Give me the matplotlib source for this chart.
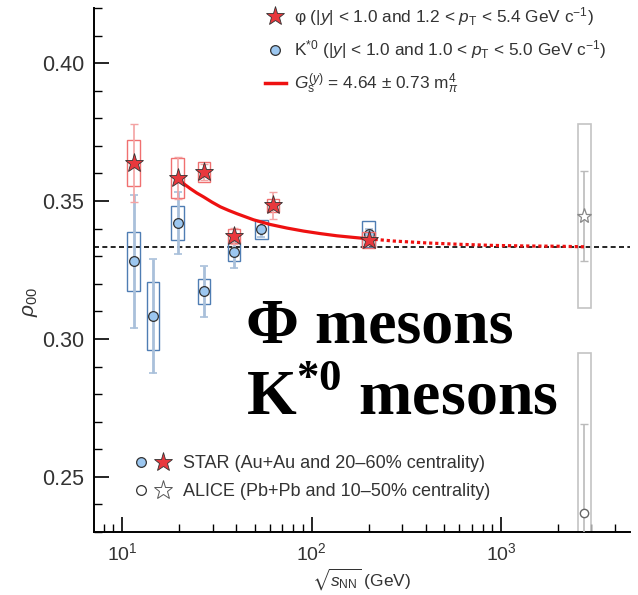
import matplotlib
matplotlib.use('Agg')
import matplotlib.pyplot as plt
from matplotlib.lines import Line2D
from matplotlib.patches import Rectangle
from matplotlib.legend_handler import HandlerTuple
from matplotlib.ticker import MultipleLocator, FormatStrFormatter, NullFormatter

plt.rcParams['font.family'] = ['Liberation Sans', 'DejaVu Sans']
plt.rcParams['mathtext.fontset'] = 'custom'
plt.rcParams['mathtext.rm'] = 'Liberation Sans'
plt.rcParams['mathtext.it'] = 'Liberation Sans:italic'
plt.rcParams['mathtext.bf'] = 'Liberation Serif:bold'
plt.rcParams['mathtext.fallback'] = 'stix'

# STAR phi
phi_e = [11.5, 19.6, 27, 39, 62.4, 200]
phi_val = [0.3639, 0.3584, 0.3605, 0.3373, 0.3484, 0.3357]
phi_stat = [0.0141, 0.0077, 0.0030, 0.0030, 0.0050, 0.0015]
phi_sys = [0.0083, 0.0072, 0.0037, 0.0024, 0.0024, 0.0029]

# STAR K*0
k_e = [11.5, 14.5, 19.6, 27, 39, 54.4, 200]
k_val = [0.3281, 0.3084, 0.3420, 0.3172, 0.3315, 0.3397, 0.3380]
k_stat = [0.0240, 0.0207, 0.0111, 0.0093, 0.0057, 0.0027, 0.0020]
k_sys = [0.0106, 0.0123, 0.0062, 0.0047, 0.0033, 0.0036, 0.0048]

# ALICE
alice_e = [2760]
alice_phi = [0.3445]
alice_phi_stat = [0.0163]
alice_phi_sys = [0.0333]
alice_k = [0.237]
alice_k_stat = [0.032]
alice_k_sys = [0.058]

# G_s fit curve
fit_e = [19.6, 21.2, 22.9, 24.8, 26.9, 29.8, 33.0, 36.5, 40.4, 49.4, 60.5, 74.2,
         90.8, 111, 136, 167, 200]
fit_val = [0.3581, 0.3562, 0.3545, 0.3529, 0.3515, 0.3496, 0.3479, 0.3466, 0.3454,
           0.3432, 0.3415, 0.3402, 0.3391, 0.3382, 0.3374, 0.3368, 0.3363]
ext_e = [200, 271, 407, 610, 914, 1371, 2056, 2760]
ext_val = [0.3363, 0.3355, 0.3348, 0.3343, 0.3339, 0.3337, 0.3336, 0.3334]

red = '#e8383d'
red_box = '#f07070'
red_err = '#f4a3a3'
blue = '#9cc7f0'
blue_box = '#4f7db3'
blue_err = '#a9c0da'
grey = '#c4c4c4'
txt = '#333333'

fig = plt.figure(figsize=(6.38, 5.95), dpi=100)
ax = fig.add_axes([0.1473, 0.1059, 0.8401, 0.8807])
ax.set_xscale('log')
ax.set_xlim(7.1, 4800)
ax.set_ylim(0.23, 0.42)

hw = 1.078  # box half-width factor (log scale)


def boxes(es, vals, sys, color, lw=1.0, z=2):
    for e, v, s in zip(es, vals, sys):
        ax.add_patch(Rectangle((e / hw, v - s), e * hw - e / hw, 2 * s,
                               fill=False, edgecolor=color, lw=lw, zorder=z))


ax.axhline(1 / 3, color='black', lw=1.2, ls=(0, (3, 2)), zorder=1)

# ALICE
boxes(alice_e, alice_phi, alice_phi_sys, grey, lw=1.2)
boxes(alice_e, alice_k, alice_k_sys, grey, lw=1.2)
ax.errorbar(alice_e, alice_phi, yerr=alice_phi_stat, fmt='none', ecolor='#bbbbbb',
            elinewidth=1.2, capsize=3, zorder=3)
ax.errorbar(alice_e, alice_k, yerr=alice_k_stat, fmt='none', ecolor='#bbbbbb',
            elinewidth=1.2, capsize=3, zorder=3)
ax.plot(alice_e, alice_phi, ls='none', marker='*', ms=11, mfc='white', mec='#888888',
        mew=0.9, zorder=4)
ax.plot(alice_e, alice_k, ls='none', marker='o', ms=6, mfc='white', mec='#666666',
        mew=1.0, zorder=4)

# STAR K*0
boxes(k_e, k_val, k_sys, blue_box)
ax.errorbar(k_e, k_val, yerr=k_stat, fmt='none', ecolor=blue_err, elinewidth=2,
            capsize=3, capthick=1.2, zorder=3)
ax.plot(k_e, k_val, ls='none', marker='o', ms=7, mfc=blue, mec='#333333', mew=0.9,
        zorder=5)

# STAR phi
boxes(phi_e, phi_val, phi_sys, red_box, z=6)
ax.errorbar(phi_e, phi_val, yerr=phi_stat, fmt='none', ecolor=red_err, elinewidth=1.2,
            capsize=3, zorder=6)
ax.plot(phi_e, phi_val, ls='none', marker='*', ms=14, mfc=red, mec='#333333', mew=0.6,
        zorder=8)

# fit curve
ax.plot(fit_e, fit_val, color='#ee1111', lw=2.3, zorder=7, solid_capstyle='butt',
        solid_joinstyle='round')
ax.plot(ext_e, ext_val, color='#ee1111', lw=2.3, ls=(0, (1.0, 0.9)), zorder=7)

# axes styling
for s in ['top', 'right']:
    ax.spines[s].set_visible(False)
for s in ['left', 'bottom']:
    ax.spines[s].set_linewidth(1.4)
ax.yaxis.set_major_locator(MultipleLocator(0.05))
ax.yaxis.set_minor_locator(MultipleLocator(0.01))
ax.yaxis.set_major_formatter(FormatStrFormatter('%.2f'))
ax.xaxis.set_minor_formatter(NullFormatter())
ax.tick_params(which='both', direction='in', colors='black', labelcolor=txt)
ax.tick_params(axis='y', labelsize=15.5)
ax.tick_params(axis='x', labelsize=14)
ax.tick_params(which='major', length=11, width=1.2, pad=7)
ax.tick_params(which='minor', length=5.5, width=1.0)

ax.set_ylabel(r'$\rho_{00}$', fontsize=15, color=txt)
ax.yaxis.set_label_coords(-0.1, 0.44)
ax.set_xlabel(r'$\sqrt{s_{\mathrm{NN}}}$ (GeV)', fontsize=12.5, color=txt, labelpad=2)

# top legend
h_phi = Line2D([], [], ls='none', marker='*', ms=14, mfc=red, mec='#333333', mew=0.6)
h_k = Line2D([], [], ls='none', marker='o', ms=7, mfc=blue, mec='#333333', mew=0.9)
h_fit = Line2D([], [], color='#ee1111', lw=2.5)
leg1 = ax.legend([h_phi, h_k, h_fit],
                 [r'φ (|$y$| < 1.0 and 1.2 < $p_{\mathrm{T}}$ < 5.4 GeV c$^{-1}$)',
                  r'K$^{*0}$ (|$y$| < 1.0 and 1.0 < $p_{\mathrm{T}}$ < 5.0 GeV c$^{-1}$)',
                  r'$G_{\mathrm{s}}^{(y)}$ = 4.64 $\pm$ 0.73 m$_{\pi}^{4}$'],
                 loc='upper left', bbox_to_anchor=(0.29, 1.035), frameon=False,
                 fontsize=12.4, handlelength=1.2, handletextpad=0.5,
                 labelspacing=0.6, labelcolor=txt)
ax.add_artist(leg1)

# bottom legend
s_k = Line2D([], [], ls='none', marker='o', ms=7, mfc=blue, mec='#333333', mew=0.9)
s_phi = Line2D([], [], ls='none', marker='*', ms=14, mfc=red, mec='#333333', mew=0.6)
a_k = Line2D([], [], ls='none', marker='o', ms=7, mfc='white', mec='#333333', mew=0.9)
a_phi = Line2D([], [], ls='none', marker='*', ms=14, mfc='white', mec='#555555', mew=0.7)
ax.legend([(s_k, s_phi), (a_k, a_phi)],
          ['STAR (Au+Au and 20–60% centrality)',
           'ALICE (Pb+Pb and 10–50% centrality)'],
          handler_map={tuple: HandlerTuple(ndivide=None, pad=0.3)},
          loc='lower left', bbox_to_anchor=(0.041, 0.03), frameon=False,
          fontsize=13, handlelength=2.2, handletextpad=0.6, labelspacing=0.6,
          labelcolor=txt)

# overlay caption
ax.text(0.283, 0.362, 'Φ mesons', transform=ax.transAxes, fontsize=46,
        fontfamily='Liberation Serif', fontweight='bold', color='black')
ax.text(0.283, 0.225, r'K$^{\mathbf{*0}}$ mesons', transform=ax.transAxes,
        fontsize=46, fontfamily='Liberation Serif', fontweight='bold', color='black')

fig.savefig('out.png', dpi=100)
